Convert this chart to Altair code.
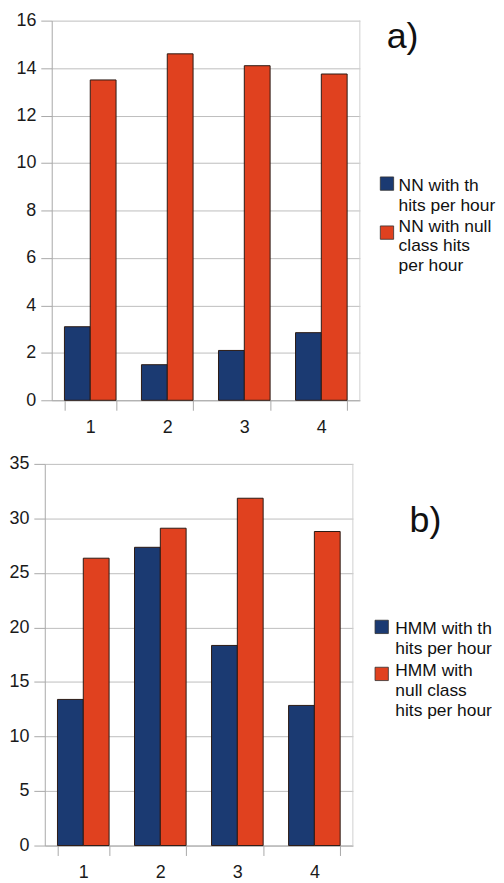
import altair as alt
import pandas as pd

categories = ["1", "2", "3", "4"]
series_names = ["th", "null"]

nn_th = [3.1, 1.5, 2.1, 2.85]
nn_null = [13.5, 14.6, 14.1, 13.75]
hmm_th = [13.4, 27.35, 18.35, 12.85]
hmm_null = [26.35, 29.1, 31.85, 28.8]

nn_labels = ["NN with th\nhits per hour", "NN with null\nclass hits\nper hour"]
hmm_labels = ["HMM with th\nhits per hour", "HMM with\nnull class\nhits per hour"]

BLUE = "#1b3a72"
RED = "#e0411f"
FONT = "Liberation Sans"
ONE = alt.Data(values=[{"k": 1}])


def panel(th, null, ymax, ystep, labels, tag, tag_x, tag_y, sq_x, sq_y, tx_x, tx_y,
          shift, width, height, leg_fs):
    df = pd.DataFrame({
        "cat": categories * 2,
        "series": ["th"] * len(categories) + ["null"] * len(categories),
        "value": th + null,
    })
    xscale = alt.Scale(paddingInner=0.33, paddingOuter=0.165, range=[shift, width])
    yaxis = alt.Axis(values=list(range(0, ymax + 1, ystep)), grid=True,
                     tickSize=11, labelPadding=5)
    if shift:
        yaxis = alt.Axis(values=list(range(0, ymax + 1, ystep)), grid=True,
                         tickSize=11, labelPadding=5, offset=-shift)
    bars = alt.Chart(df).mark_bar(stroke="#2b1a14", strokeWidth=1).encode(
        x=alt.X("cat:N", sort=categories, title=None, scale=xscale,
                axis=alt.Axis(labelAngle=0, tickBand="extent", grid=False, tickSize=10,
                              labelPadding=8)),
        xOffset=alt.XOffset("series:N", sort=series_names,
                            scale=alt.Scale(paddingInner=0, paddingOuter=0)),
        y=alt.Y("value:Q", title=None,
                scale=alt.Scale(domain=[0, ymax], nice=False), axis=yaxis),
        color=alt.Color("series:N", scale=alt.Scale(domain=series_names, range=[BLUE, RED]),
                        legend=None),
    )
    border = alt.Chart(ONE).mark_rule(color="#d0d0d0", strokeWidth=1).encode(
        x=alt.value(width), y=alt.value(0), y2=alt.value(height))
    layers = [border, bars]
    layers.append(alt.Chart(ONE).mark_text(align="left", baseline="alphabetic", fontSize=36,
                                           font=FONT, color="#111").encode(
        x=alt.value(tag_x), y=alt.value(tag_y), text=alt.value(tag)))
    for i, (lab, col) in enumerate(zip(labels, [BLUE, RED])):
        layers.append(alt.Chart(ONE).mark_square(size=180, opacity=1, stroke="#333",
                                                 strokeWidth=0.8, color=col).encode(
            x=alt.value(sq_x), y=alt.value(sq_y[i])))
        layers.append(alt.Chart(ONE).mark_text(align="left", baseline="alphabetic",
                                               fontSize=leg_fs, font=FONT, color="#111",
                                               lineBreak="\n", lineHeight=20).encode(
            x=alt.value(tx_x), y=alt.value(tx_y[i]), text=alt.value(lab)))
    return alt.layer(*layers).properties(width=width, height=height)


# top panel: plot origin shared with bottom panel, drawn 7px further right
top = panel(nn_th, nn_null, 16, 2, nn_labels, "a)", 344, 28,
            344.3, [164, 213.3], 356, [171.7, 212.3],
            shift=7, width=317, height=382, leg_fs=17.5)
bottom = panel(hmm_th, hmm_null, 35, 5, hmm_labels, "b)", 367, 69,
               339, [164, 211.3], 352.7, [171, 213.7],
               shift=0, width=310, height=384, leg_fs=17.5)

chart = alt.concat(top, bottom, columns=1, spacing=17).properties(
    padding=0, background="white"
).configure_view(stroke="transparent").configure_axis(
    labelFont=FONT, labelFontSize=18, labelColor="#1a1a1a",
    gridColor="#bdbdbd", gridWidth=1, domainColor="#a8a8a8", tickColor="#a8a8a8",
    domainWidth=1, tickWidth=1,
)

chart.save("out.html", embed_options={"renderer": "svg", "actions": False})
